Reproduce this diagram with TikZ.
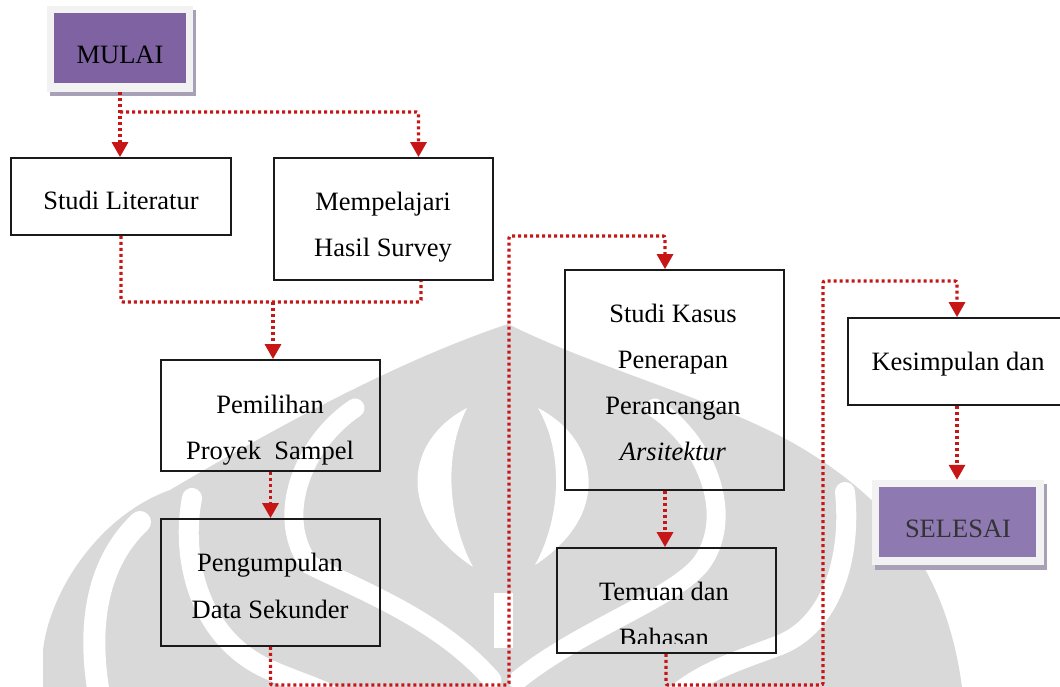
\documentclass[tikz,border=0pt]{standalone}
\usepackage{fontspec}
\setmainfont{Liberation Serif}
\usetikzlibrary{arrows.meta,calc}

\definecolor{flowred}{RGB}{198,22,22}
\definecolor{boxline}{RGB}{26,26,26}
\definecolor{startfill}{RGB}{126,98,161}
\definecolor{endfill}{RGB}{142,121,176}
\definecolor{framefill}{RGB}{242,242,242}
\definecolor{shadowfill}{RGB}{168,160,182}
\definecolor{markgrey}{RGB}{217,217,217}

\tikzset{
  stepbox/.style={draw=boxline, line width=1.8pt, inner sep=0pt},
  termframe/.style={fill=framefill, inner sep=0pt},
  termbox/.style={inner sep=0pt},
  txt/.style={anchor=base, inner sep=0pt, font=\fontsize{26.5pt}{30pt}\selectfont},
  flowline/.style={draw=flowred, line width=3.2pt, dash pattern=on 3pt off 3pt, rounded corners=2pt},
  flow/.style={flowline, -{Triangle[width=16pt,length=15pt]}},
  petal/.style={draw=white, line cap=round},
}

\begin{document}
\begin{tikzpicture}[x=1pt, y=-1pt]
\useasboundingbox (0,0) rectangle (1060,687);
\fill[white] (0,0) rectangle (1060,687);

% ---- watermark emblem in the background ----
\fill[markgrey] (43,687) -- (43,650)
  .. controls (50,590) and (100,515) .. (170,490)
  .. controls (280,425) and (400,360) .. (508,324)
  .. controls (600,370) and (720,400) .. (800,447)
  .. controls (880,495) and (945,560) .. (962,687) -- cycle;
% inner crescents around the central seed
\fill[white] (467,408) .. controls (405,440) and (395,515) .. (473,567)
  .. controls (448,520) and (443,455) .. (467,408) -- cycle;
\fill[white] (538,408) .. controls (600,440) and (612,515) .. (535,565)
  .. controls (560,520) and (565,455) .. (538,408) -- cycle;
\fill[white] (494,593) rectangle (513,648);
% petal gaps
\draw[petal, line width=22pt] (140,522) .. controls (100,560) and (85,620) .. (100,700);
\draw[petal, line width=20pt] (192,498) .. controls (180,560) and (200,640) .. (270,670)
  .. controls (300,683) and (320,688) .. (340,700);
\draw[petal, line width=19pt] (355,408) .. controls (300,445) and (275,520) .. (310,565)
  .. controls (360,590) and (440,620) .. (492,680);
\draw[petal, line width=19pt] (655,408) .. controls (710,445) and (735,520) .. (700,565)
  .. controls (670,600) and (580,630) .. (518,680);
\draw[petal, line width=20pt] (845,492) .. controls (852,560) and (830,625) .. (780,645)
  .. controls (740,660) and (700,672) .. (670,700);

% ---- start terminal ----
\fill[shadowfill] (50,10) rectangle (196,96);
\node[termframe, minimum width=146pt, minimum height=86pt] (mulaiframe) at (120,49) {};
\node[termbox, fill=startfill, minimum width=132pt, minimum height=70pt] (mulai) at (120,48) {};
\node[txt] (tmulai) at (120,64) {MULAI};

% ---- process boxes ----
\node[stepbox, minimum width=220pt, minimum height=77pt]  (studi)       at (121,196.5) {};
\node[stepbox, minimum width=219pt, minimum height=122pt] (mempel)      at (383.5,219) {};
\node[stepbox, minimum width=219pt, minimum height=111pt] (pemilihan)   at (270.5,415.5) {};
\node[stepbox, minimum width=219pt, minimum height=127pt] (pengumpulan) at (270.5,582.5) {};
\node[stepbox, minimum width=219pt, minimum height=220pt] (studikasus)  at (674.5,380) {};
\node[stepbox, minimum width=219pt, minimum height=105pt] (temuan)      at (666.5,600.5) {};
\node[stepbox, minimum width=220pt, minimum height=87pt]  (kesimpulan)  at (958,361.5) {};

\node[txt] (tstudi)   at (121,210) {Studi Literatur};
\node[txt] (tmempel1) at (383,211) {Mempelajari};
\node[txt] (tmempel2) at (383,256) {Hasil Survey};
\node[txt] (tpilih1)  at (270,413) {Pemilihan};
\node[txt] (tpilih2)  at (270,459) {Proyek\ \ Sampel};
\node[txt] (tkumpul1) at (270,571) {Pengumpulan};
\node[txt] (tkumpul2) at (270,618) {Data Sekunder};
\node[txt] (tkasus1)  at (673,322) {Studi Kasus};
\node[txt] (tkasus2)  at (673,368) {Penerapan};
\node[txt] (tkasus3)  at (673,414) {Perancangan};
\node[txt] (tkasus4)  at (673,460) {\textit{Arsitektur}};
\node[txt] (ttemuan)  at (664,600) {Temuan dan};
\begin{scope}
  \clip (540,600) rectangle (800,643);
  \node[txt] (tbahasan) at (664,646) {Bahasan};
\end{scope}
\node[txt] (tsimpul)  at (958,370) {Kesimpulan dan};

% ---- end terminal ----
\fill[shadowfill] (875,484) rectangle (1047,570);
\node[termframe, minimum width=172pt, minimum height=85pt] (selesaiframe) at (958,522.5) {};
\node[termbox, fill=endfill, minimum width=157pt, minimum height=70pt] (selesai) at (957.5,522) {};
\node[txt, text=black!80] (tselesai) at (958,537) {SELESAI};

% ---- connectors ----
\coordinate (split1) at (120,112);
\coordinate (join1)  at (273,302);
\coordinate (low1)   at (509,685);
\coordinate (high1)  at (509,236);
\coordinate (low2)   at (823,685);
\coordinate (high2)  at (823,281);

\draw[flow] (mulaiframe.south) -- (mulaiframe.south |- studi.north);
\draw[flow] (split1) -| ([xshift=35pt]mempel.north);
\draw[flowline] (studi.south) |- (join1) -| ([xshift=37.5pt]mempel.south);
\draw[flow] (join1) -- (join1 |- pemilihan.north);
\draw[flow] (pemilihan.south) -- (pengumpulan.north);
\draw[flow] (pengumpulan.south) |- (low1) -- (high1) -| ([xshift=-9.5pt]studikasus.north);
\draw[flow] ([xshift=-9.5pt]studikasus.south) -- ([xshift=-9.5pt]studikasus.south |- temuan.north);
\draw[flow] ([xshift=-0.5pt]temuan.south) |- (low2) -- (high2) -| ([xshift=-1pt]kesimpulan.north);
\draw[flow] ([xshift=-1pt]kesimpulan.south) -- ([xshift=-1pt]kesimpulan.south |- selesaiframe.north);
\end{tikzpicture}
\end{document}
